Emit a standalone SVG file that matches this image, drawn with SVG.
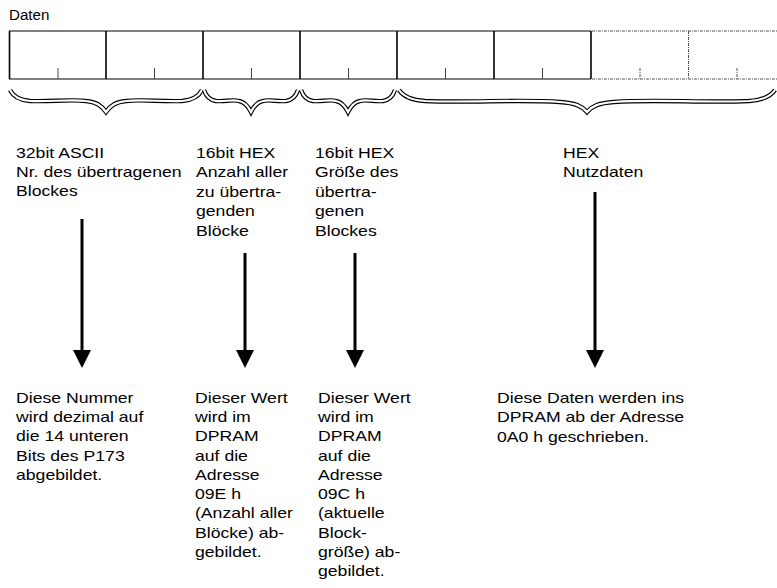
<svg xmlns="http://www.w3.org/2000/svg" width="777" height="588" viewBox="0 0 777 588">
<style>
  .t { font-family: "Liberation Sans", Arial, sans-serif; font-size: 14px; fill: #000; }
  .box { fill: none; stroke: #000; stroke-width: 1; }
  .div { stroke: #000; stroke-width: 1.6; }
  .tick { stroke: #444; stroke-width: 1; }
  .dot { stroke: #555; stroke-width: 1; stroke-dasharray: 3 1 1 1; fill: none; }
  .braceO { fill: none; stroke: #000; stroke-width: 4.4; stroke-linejoin: miter; }
  .braceI { fill: none; stroke: #fff; stroke-width: 2.2; stroke-linejoin: miter; }
  .arr { stroke: #000; stroke-width: 3; }
</style>
<defs>
  <path id="b1" d="M10,90 C13,96 18,100 30,101 C50,102 70,99 86,101 C96,102 101,105 106,112 C111,105 116,102 126,101 C142,99 162,102 182,101 C194,100 199,96 202,90"/>
  <path id="b2" d="M204,90 C206,96 209,100 216,101 C225,102 232,99 239,101 C245,102 248,106 251,112 C254,106 257,102 263,101 C270,99 277,102 286,101 C293,100 296,96 298,90"/>
  <path id="b3" d="M301,90 C303,96 306,100 313,101 C322,102 329,99 336,101 C342,102 345,106 348,112 C351,106 354,102 360,101 C367,99 374,102 383,101 C390,100 393,96 395,90"/>
  <path id="b4" d="M399,90 C403,96 410,100 425,101 C470,103 520,99 560,102 C575,103 582,106 587,112 C592,106 599,103 614,102 C654,99 704,103 749,101 C764,100 771,96 775,90"/>
</defs>

<g id="daten-label">
  <g transform="translate(9,0) scale(1.08,1)">
    <text class="t" x="0" y="20">Daten</text>
  </g>
</g>

<g id="data-frame">
  <line class="box" x1="9" y1="31" x2="591" y2="31"/>
  <line class="box" x1="9" y1="79" x2="591" y2="79"/>
  <line class="div" x1="9.5" y1="31" x2="9.5" y2="79"/>
  <line class="div" x1="106" y1="31" x2="106" y2="79"/>
  <line class="div" x1="203" y1="31" x2="203" y2="79"/>
  <line class="div" x1="300" y1="31" x2="300" y2="79"/>
  <line class="div" x1="397" y1="31" x2="397" y2="79"/>
  <line class="div" x1="494" y1="31" x2="494" y2="79"/>
  <line class="div" x1="591" y1="31" x2="591" y2="79"/>
  <line class="tick" x1="58" y1="68" x2="58" y2="79"/>
  <line class="tick" x1="154.5" y1="68" x2="154.5" y2="79"/>
  <line class="tick" x1="251.5" y1="68" x2="251.5" y2="79"/>
  <line class="tick" x1="348.5" y1="68" x2="348.5" y2="79"/>
  <line class="tick" x1="445.5" y1="68" x2="445.5" y2="79"/>
  <line class="tick" x1="542.5" y1="68" x2="542.5" y2="79"/>
  <line class="dot" x1="592" y1="31" x2="777" y2="31"/>
  <line class="dot" x1="592" y1="79" x2="777" y2="79"/>
  <line class="dot" x1="688.5" y1="31" x2="688.5" y2="79"/>
  <line class="dot" x1="640" y1="68" x2="640" y2="79"/>
  <line class="dot" x1="737" y1="68" x2="737" y2="79"/>
</g>

<g id="braces">
  <use href="#b1" class="braceO"/><use href="#b1" class="braceI"/>
  <use href="#b2" class="braceO"/><use href="#b2" class="braceI"/>
  <use href="#b3" class="braceO"/><use href="#b3" class="braceI"/>
  <use href="#b4" class="braceO"/><use href="#b4" class="braceI"/>
</g>

<g id="field1">
  <g transform="translate(16,0) scale(1.26,1)">
    <text class="t" y="158"><tspan x="0">32bit ASCII</tspan><tspan x="0" dy="19">Nr. des übertragenen</tspan><tspan x="0" dy="19">Blockes</tspan></text>
  </g>
</g>
<g id="field2">
  <g transform="translate(196,0) scale(1.26,1)">
    <text class="t" y="158"><tspan x="0">16bit HEX</tspan><tspan x="0" dy="19.5">Anzahl aller</tspan><tspan x="0" dy="19.5">zu übertra-</tspan><tspan x="0" dy="19.5">genden</tspan><tspan x="0" dy="19.5">Blöcke</tspan></text>
  </g>
</g>
<g id="field3">
  <g transform="translate(315,0) scale(1.26,1)">
    <text class="t" y="158"><tspan x="0">16bit HEX</tspan><tspan x="0" dy="19.5">Größe des</tspan><tspan x="0" dy="19.5">übertra-</tspan><tspan x="0" dy="19.5">genen</tspan><tspan x="0" dy="19.5">Blockes</tspan></text>
  </g>
</g>
<g id="field4">
  <g transform="translate(563,0) scale(1.26,1)">
    <text class="t" y="158"><tspan x="0">HEX</tspan><tspan x="0" dy="19">Nutzdaten</tspan></text>
  </g>
</g>

<g id="connectors">
  <line class="arr" x1="82" y1="219" x2="82" y2="352"/>
  <polygon points="73,350 91,350 82,368"/>
  <line class="arr" x1="245" y1="253" x2="245" y2="352"/>
  <polygon points="236,350 254,350 245,368"/>
  <line class="arr" x1="355" y1="253" x2="355" y2="352"/>
  <polygon points="346,350 364,350 355,368"/>
  <line class="arr" x1="595" y1="192" x2="595" y2="352"/>
  <polygon points="586,350 604,350 595,368"/>
</g>

<g id="result1">
  <g transform="translate(16,0) scale(1.26,1)">
    <text class="t" y="403"><tspan x="0">Diese Nummer</tspan><tspan x="0" dy="19.25">wird dezimal auf</tspan><tspan x="0" dy="19.25">die 14 unteren</tspan><tspan x="0" dy="19.25">Bits des P173</tspan><tspan x="0" dy="19.25">abgebildet.</tspan></text>
  </g>
</g>
<g id="result2">
  <g transform="translate(195,0) scale(1.26,1)">
    <text class="t" y="403"><tspan x="0">Dieser Wert</tspan><tspan x="0" dy="19.25">wird im</tspan><tspan x="0" dy="19.25">DPRAM</tspan><tspan x="0" dy="19.25">auf die</tspan><tspan x="0" dy="19.25">Adresse</tspan><tspan x="0" dy="19.25">09E h</tspan><tspan x="0" dy="19.25">(Anzahl aller</tspan><tspan x="0" dy="19.25">Blöcke) ab-</tspan><tspan x="0" dy="19.25">gebildet.</tspan></text>
  </g>
</g>
<g id="result3">
  <g transform="translate(318,0) scale(1.26,1)">
    <text class="t" y="403"><tspan x="0">Dieser Wert</tspan><tspan x="0" dy="19.25">wird im</tspan><tspan x="0" dy="19.25">DPRAM</tspan><tspan x="0" dy="19.25">auf die</tspan><tspan x="0" dy="19.25">Adresse</tspan><tspan x="0" dy="19.25">09C h</tspan><tspan x="0" dy="19.25">(aktuelle</tspan><tspan x="0" dy="19.25">Block-</tspan><tspan x="0" dy="19.25">größe) ab-</tspan><tspan x="0" dy="19.25">gebildet.</tspan></text>
  </g>
</g>
<g id="result4">
  <g transform="translate(497,0) scale(1.26,1)">
    <text class="t" y="403"><tspan x="0">Diese Daten werden ins</tspan><tspan x="0" dy="19.5">DPRAM ab der Adresse</tspan><tspan x="0" dy="19.5">0A0 h geschrieben.</tspan></text>
  </g>
</g>
</svg>
